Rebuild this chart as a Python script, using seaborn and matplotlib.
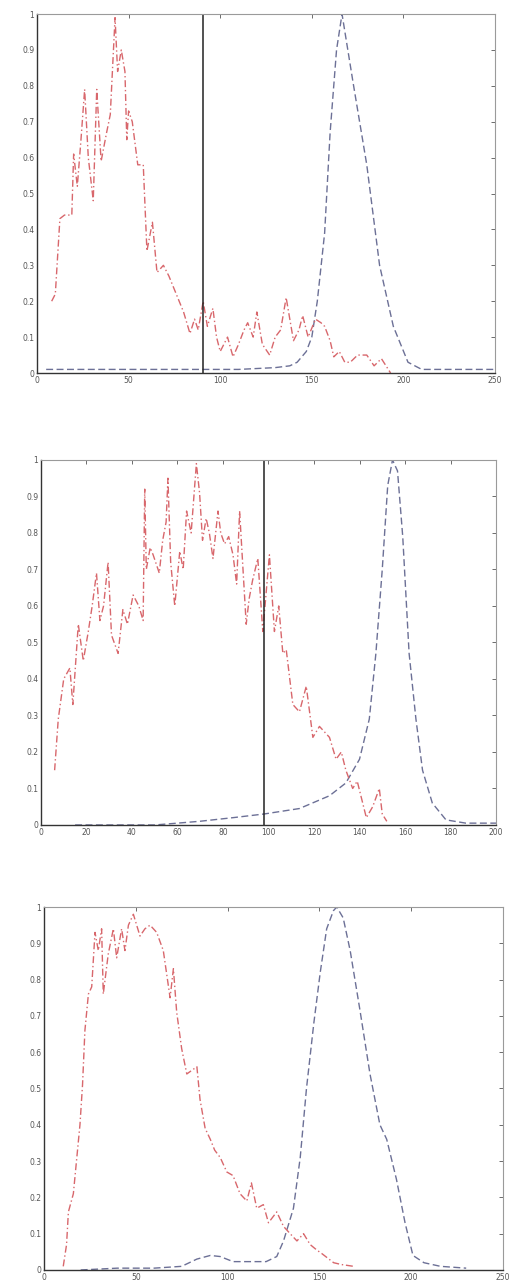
import numpy as np
import pandas as pd
import matplotlib
matplotlib.use("Agg")
import matplotlib.pyplot as plt
import seaborn as sns

# ---------------- data ----------------
# Panel 1 (x 0-250)
p1_red_x = [8, 10, 12.5, 15, 19, 20, 22, 24, 26, 28, 30.7, 32.6, 35, 38, 40, 42.6, 44, 46, 48, 49,
            50, 52, 55, 58, 60, 63, 65.5, 69, 72, 76, 80, 83.5, 86, 88, 90.7, 93, 96, 98, 100, 104,
            107, 110, 113, 115, 118, 120, 123, 127, 130, 133, 136, 140, 143, 145, 148, 152, 155, 157, 160, 162,
            165, 168, 171, 175, 180, 184, 188, 193]
p1_red_y = [0.2, 0.22, 0.43, 0.44, 0.44, 0.61, 0.52, 0.65, 0.79, 0.6, 0.48, 0.79, 0.59, 0.67, 0.72, 0.99, 0.84, 0.9, 0.84, 0.65,
            0.73, 0.7, 0.58, 0.58, 0.34, 0.42, 0.28, 0.3, 0.27, 0.22, 0.17, 0.11, 0.15, 0.12, 0.2, 0.13, 0.18, 0.1, 0.06, 0.1,
            0.045, 0.08, 0.12, 0.14, 0.1, 0.17, 0.08, 0.05, 0.1, 0.12, 0.21, 0.09, 0.12, 0.16, 0.1, 0.15, 0.14, 0.13, 0.09, 0.045,
            0.06, 0.03, 0.03, 0.05, 0.05, 0.02, 0.04, 0.0]
p1_blue_x = [5, 30, 60, 90, 110, 130, 138, 142, 147, 150, 153, 157, 160, 163.5, 166.5, 172.5, 180, 187, 194.5, 202.5,
             210, 230, 250]
p1_blue_y = [0.01, 0.01, 0.01, 0.01, 0.01, 0.015, 0.02, 0.03, 0.06, 0.1, 0.2, 0.39, 0.67, 0.9, 1.0, 0.81, 0.58, 0.3, 0.13, 0.03,
             0.01, 0.01, 0.01]
p1_threshold = 90.5
p1_xticks = [0, 50, 100, 150, 200, 250]

# Panel 2 (x 0-200)
p2_red_x = [6, 7.6, 10, 12.7, 14, 16.4, 18.6, 20.8, 22.5, 24.4, 25.9, 27.5, 29.5, 31, 33.9, 36, 38, 40.5, 43, 44.9,
            45.6, 46.3, 48, 49.3, 52, 53.5, 55, 55.8, 57, 58.8, 61, 62.5, 64, 66, 68.3, 69.7, 71, 72.6, 74, 75.6,
            77.8, 79, 80.7, 82.5, 84.4, 86, 87.3, 90.2, 91.5, 93, 95.3, 97.5, 100.4, 102.6, 104.5, 106.3, 107.8, 110.7, 113.6, 116.6,
            119.5, 122.4, 126.8, 129.7, 132, 134, 137, 139, 141.4, 143, 145.8, 148.7, 150, 152]
p2_red_y = [0.15, 0.29, 0.4, 0.43, 0.33, 0.55, 0.45, 0.53, 0.6, 0.69, 0.56, 0.6, 0.72, 0.52, 0.47, 0.59, 0.55, 0.63, 0.6, 0.56,
            0.92, 0.70, 0.76, 0.74, 0.69, 0.78, 0.83, 0.95, 0.72, 0.60, 0.75, 0.7, 0.86, 0.80, 0.99, 0.91, 0.78, 0.84, 0.8, 0.73,
            0.86, 0.8, 0.77, 0.79, 0.74, 0.66, 0.86, 0.55, 0.62, 0.67, 0.73, 0.53, 0.74, 0.53, 0.6, 0.47, 0.48, 0.33, 0.31, 0.38,
            0.24, 0.27, 0.24, 0.18, 0.2, 0.15, 0.1, 0.12, 0.06, 0.02, 0.05, 0.1, 0.03, 0.01]
p2_blue_x = [15, 30, 50, 60, 69.7, 84.4, 98, 113.6, 126.8, 134, 140, 144.3, 147.2, 150, 152.4, 154.5, 156.7, 159, 161.8, 164.8,
             167.7, 172, 178, 186.7, 200]
p2_blue_y = [0.0, 0.0, 0.0, 0.005, 0.01, 0.02, 0.03, 0.045, 0.08, 0.115, 0.18, 0.29, 0.47, 0.70, 0.93, 1.0, 0.97, 0.79, 0.47, 0.29,
             0.15, 0.06, 0.014, 0.005, 0.005]
p2_threshold = 98
p2_xticks = [0, 20, 40, 60, 80, 100, 120, 140, 160, 180, 200]

# Panel 3 (x 0-250)
p3_red_x = [10.5, 12.3, 13.3, 16, 19.6, 21, 22.3, 24.2, 26, 27.8, 29.6, 31.4, 32.3, 35, 37.8, 39.6, 42.3, 44.1, 46, 48.7,
            52.3, 55, 57.8, 61.4, 65, 68.7, 70.5, 72.3, 75, 77.8, 83.3, 85, 87.8, 90.6, 93, 96, 99.6, 103, 106.8, 110.5,
            113, 115.9, 119.5, 122.3, 126.8, 130.5, 134.1, 137.8, 141.4, 145, 148.6, 151.4, 157.8, 162, 168.7]
p3_red_y = [0.01, 0.07, 0.16, 0.21, 0.40, 0.51, 0.66, 0.76, 0.78, 0.93, 0.88, 0.94, 0.76, 0.87, 0.94, 0.86, 0.94, 0.88, 0.95, 0.98,
            0.92, 0.94, 0.95, 0.93, 0.88, 0.75, 0.83, 0.71, 0.61, 0.54, 0.56, 0.47, 0.39, 0.36, 0.33, 0.31, 0.27, 0.26, 0.21, 0.19,
            0.24, 0.17, 0.18, 0.13, 0.16, 0.12, 0.10, 0.08, 0.10, 0.07, 0.055, 0.045, 0.02, 0.015, 0.01]
p3_blue_x = [20, 40, 60, 75, 83.3, 90.6, 96, 103, 112, 121, 126.8, 130.5, 135.9, 139.6, 143, 147, 150.5, 154, 157.7, 159.5,
             163, 166.8, 172, 177.6, 183, 186.7, 192, 196.7, 201, 207, 216, 230]
p3_blue_y = [0.0, 0.005, 0.005, 0.01, 0.03, 0.04, 0.037, 0.023, 0.023, 0.023, 0.037, 0.08, 0.17, 0.31, 0.5, 0.68, 0.82, 0.94, 0.99, 1.0,
             0.97, 0.88, 0.72, 0.54, 0.40, 0.36, 0.25, 0.13, 0.04, 0.02, 0.01, 0.005]
p3_xticks = [0, 50, 100, 150, 200, 250]

yticks = [0, 0.1, 0.2, 0.3, 0.4, 0.5, 0.6, 0.7, 0.8, 0.9, 1]
ytick_labels = ["0", "0.1", "0.2", "0.3", "0.4", "0.5", "0.6", "0.7", "0.8", "0.9", "1"]

# ---------------- figure ----------------
sns.set_style("white")
plt.rcParams['font.family'] = ['DejaVu Sans']

fig = plt.figure(figsize=(5.09, 12.88), dpi=100)
RED = "#d8676c"
BLUE = "#6c7096"
AXC = "#333333"

panels = [
    dict(rect=[0.0727, 0.7104, 0.8998, 0.2787], red=(p1_red_x, p1_red_y), blue=(p1_blue_x, p1_blue_y),
         thr=p1_threshold, xt=p1_xticks, xlim=(0, 250)),
    dict(rect=[0.0805, 0.3595, 0.8940, 0.2834], red=(p2_red_x, p2_red_y), blue=(p2_blue_x, p2_blue_y),
         thr=p2_threshold, xt=p2_xticks, xlim=(0, 200)),
    dict(rect=[0.0864, 0.0140, 0.9016, 0.2818], red=(p3_red_x, p3_red_y), blue=(p3_blue_x, p3_blue_y),
         thr=None, xt=p3_xticks, xlim=(0, 250)),
]

for p in panels:
    ax = fig.add_axes(p["rect"])
    rx, ry = p["red"]
    bx, by = p["blue"]
    dfr = pd.DataFrame({"x": rx, "y": ry})
    dfb = pd.DataFrame({"x": bx, "y": by})
    sns.lineplot(data=dfb, x="x", y="y", ax=ax, color=BLUE, linewidth=1.0,
                 linestyle=(0, (5, 2.5)), estimator=None, sort=False)
    sns.lineplot(data=dfr, x="x", y="y", ax=ax, color=RED, linewidth=1.0,
                 linestyle=(0, (5, 2, 1, 2)), estimator=None, sort=False)
    if p["thr"] is not None:
        ax.axvline(p["thr"], color="#222222", linewidth=1.1)
    ax.set_xlim(*p["xlim"])
    ax.set_ylim(0, 1)
    ax.set_xticks(p["xt"])
    ax.set_xticklabels([str(t) for t in p["xt"]])
    ax.set_yticks(yticks)
    ax.set_yticklabels(ytick_labels)
    ax.set_xlabel("")
    ax.set_ylabel("")
    ax.tick_params(direction="in", length=3, width=0.6, labelsize=5.5, colors="#555555",
                   top=True, right=True, pad=2)
    for s in ["left", "bottom"]:
        ax.spines[s].set_color(AXC)
        ax.spines[s].set_linewidth(1.0)
    for s in ["top", "right"]:
        ax.spines[s].set_color("#9a9a9a")
        ax.spines[s].set_linewidth(0.8)

fig.savefig("out.png", dpi=100, facecolor="white")
